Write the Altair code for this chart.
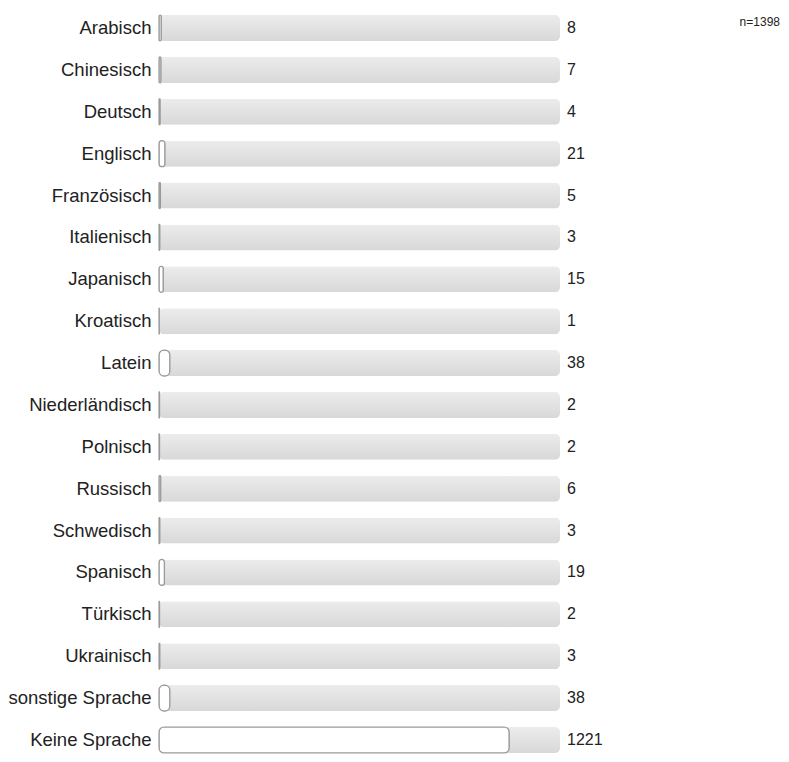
import altair as alt
import pandas as pd

categories = ["Arabisch", "Chinesisch", "Deutsch", "Englisch", "Französisch", "Italienisch",
              "Japanisch", "Kroatisch", "Latein", "Niederländisch", "Polnisch", "Russisch",
              "Schwedisch", "Spanisch", "Türkisch", "Ukrainisch", "sonstige Sprache", "Keine Sprache"]
values = [8, 7, 4, 21, 5, 3, 15, 1, 38, 2, 2, 6, 3, 19, 2, 3, 38, 1221]
n_total = 1398

df = pd.DataFrame({"cat": categories, "value": values, "total": [n_total] * len(categories)})

FONT = "Liberation Sans"

y = alt.Y("cat:N", sort=categories, title=None,
          scale=alt.Scale(paddingInner=0.379, paddingOuter=0.0836, align=1),
          axis=alt.Axis(ticks=False, domain=False, labelPadding=8, labelFontSize=18.5,
                        labelFont=FONT, labelColor="#222222", labelLimit=300))
xscale = alt.Scale(domain=[0, n_total], nice=False, zero=True)

base = alt.Chart(df)

track = base.mark_bar(
    cornerRadius=5,
    color=alt.Gradient(gradient="linear", x1=0, x2=0, y1=0, y2=1,
                       stops=[alt.GradientStop(color="#ececec", offset=0),
                              alt.GradientStop(color="#d8d8d8", offset=1)])
).encode(x=alt.X("total:Q", scale=xscale, axis=None), y=y)

valbar = base.mark_bar(cornerRadius=5, fill="white", stroke="#9a9a9a", strokeWidth=1.2).encode(
    x=alt.X("value:Q", scale=xscale, axis=None), y=y)

labels = base.mark_text(align="left", baseline="middle", dx=7, fontSize=16, font=FONT,
                        color="#222222").encode(
    x=alt.X("total:Q", scale=xscale, axis=None), y=y, text="value:Q")

ntext = alt.Chart(pd.DataFrame({"t": [f"n={n_total}"]})).mark_text(
    align="right", baseline="middle", fontSize=12, font=FONT, color="#222222"
).encode(x=alt.value(621), y=alt.value(14), text="t:N")

chart = alt.layer(track, valbar, labels, ntext).properties(
    width=401, height=745, padding=0
).configure_view(stroke=None)

chart.save("out.html", embed_options={"renderer": "svg", "actions": False})
